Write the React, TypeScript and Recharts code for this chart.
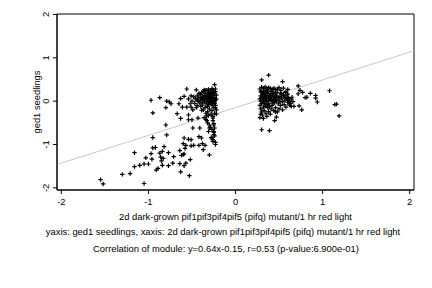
import React from 'react';
import { ScatterChart, Scatter, XAxis, YAxis, ReferenceLine, ReferenceArea } from 'recharts';

const xTicks = [-2, -1, 0, 1, 2];
const yTicks = [-2, -1, 0, 1, 2];
const slope = 0.64;
const intercept = -0.15;

const leftSparse: [number, number][] = [
  [-1.55, -1.81], [-1.52, -1.91], [-1.05, -1.9], [-1.3, -1.69], [-1.21, -1.67], [-1.16, -1.51],
  [-1.16, -1.19], [-1.1, -1.48], [-1.05, -1.45], [-1.03, -1.31], [-1.0, -1.45], [-0.95, -1.08],
  [-0.92, -1.07], [-0.95, -0.84], [-0.97, 0.02], [-0.95, -0.27], [-0.87, 0.08], [-0.91, -1.59],
  [-0.97, -1.21], [-0.96, -1.34], [-0.87, -1.2], [-0.86, -1.29], [-0.85, -1.38], [-0.84, -1.16],
  [-0.83, -1.32], [-0.82, -1.05], [-0.84, -1.48], [-0.89, -1.55], [-0.8, -0.15], [-0.79, 0.0],
  [-0.76, -0.02], [-0.74, -0.06], [-0.8, -0.55], [-0.79, -0.78], [-0.77, -1.19], [-0.77, -1.49],
  [-0.71, -1.28], [-0.72, -1.43], [-0.67, -0.29], [-0.65, -0.06], [-0.63, 0.06], [-0.61, -0.14],
  [-0.63, -0.4], [-0.64, -1.14], [-0.62, -1.25], [-0.64, -1.44], [-0.63, -1.63], [-0.6, -1.23],
  [-0.59, -1.22], [-0.59, -0.85], [-0.6, -0.98], [-0.59, -1.49], [-0.57, -1.43], [-0.58, -1.09],
  [-0.57, -1.02], [-0.54, -0.32], [-0.53, -1.72], [-0.52, -1.35], [-0.54, -0.88], [-0.51, -0.89],
  [-0.59, 0.11], [-0.56, 0.28], [-0.54, 0.05], [-0.51, 0.12], [-0.56, -0.14], [-0.51, -0.14],
  [-0.54, -0.43], [-0.5, -0.43], [-0.51, -1.03], [-0.49, -0.62], [-0.48, -1.02], [-0.45, 0.26],
  [-0.44, 0.03], [-0.43, -0.39], [-0.42, -1.02], [-0.42, -0.82], [-0.41, -0.62], [-0.38, -0.98],
  [-0.39, -0.85], [-0.39, -0.21], [-0.37, -1.12], [-0.35, -1.02], [-0.36, 0.26], [-0.33, -0.45],
  [-0.33, -0.34], [-0.3, -0.62], [-0.31, -0.7], [-0.3, -1.24], [-0.28, -0.84], [-0.26, -0.89],
  [-0.25, -0.7], [-0.26, -0.93], [-0.23, -1.0], [-0.24, 0.38], [-0.25, -0.55], [-0.25, -0.77],
  [-0.26, -0.39],
];

const leftDense: [number, number][] = [
  [-0.4, 0.15], [-0.38, 0.1], [-0.36, 0.05], [-0.35, 0.18], [-0.34, 0.12], [-0.33, 0.08], [-0.32, 0.02],
  [-0.31, 0.15], [-0.3, 0.2], [-0.29, 0.1], [-0.28, 0.05], [-0.27, 0.0], [-0.26, 0.12], [-0.25, 0.18],
  [-0.24, 0.08], [-0.23, 0.02], [-0.22, 0.14], [-0.24, -0.05], [-0.26, -0.1], [-0.28, -0.08], [-0.3, -0.03],
  [-0.32, -0.12], [-0.34, -0.06], [-0.36, -0.01], [-0.38, -0.09], [-0.4, 0.02], [-0.42, 0.08], [-0.44, 0.12],
  [-0.41, -0.04], [-0.37, 0.22], [-0.33, 0.25], [-0.29, 0.24], [-0.25, 0.26], [-0.23, 0.22], [-0.27, 0.17],
  [-0.31, 0.07], [-0.35, -0.15], [-0.3, -0.18], [-0.25, -0.15], [-0.23, -0.1], [-0.27, -0.22], [-0.32, -0.25],
  [-0.28, -0.3], [-0.24, -0.28], [-0.33, 0.0], [-0.29, -0.01], [-0.26, 0.04], [-0.22, 0.05], [-0.24, 0.13],
  [-0.28, 0.13], [-0.32, 0.18], [-0.36, 0.13], [-0.39, 0.06], [-0.43, 0.0], [-0.46, 0.05], [-0.48, 0.1],
  [-0.47, -0.05], [-0.44, -0.1], [-0.4, -0.12], [-0.37, -0.2], [-0.34, -0.28], [-0.31, -0.33], [-0.26, -0.35],
  [-0.22, -0.2], [-0.22, -0.3], [-0.23, 0.28], [-0.27, 0.29], [-0.31, 0.27], [-0.35, 0.25], [-0.39, 0.2],
  [-0.42, 0.18], [-0.3, 0.11], [-0.27, 0.09], [-0.25, 0.01], [-0.29, 0.05], [-0.33, 0.04], [-0.31, -0.07],
  [-0.27, -0.04], [-0.24, -0.02], [-0.23, -0.15], [-0.35, 0.09], [-0.37, 0.03], [-0.38, -0.04], [-0.26, 0.21],
  [-0.28, 0.19], [-0.3, 0.16], [-0.5, 0.0], [-0.52, -0.06], [-0.45, -0.15], [-0.49, -0.2],
  [-0.26, -0.45], [-0.25, -0.52], [-0.24, -0.62], [-0.27, -0.65], [-0.25, -0.72], [-0.24, -0.8],
  [-0.27, -0.85], [-0.23, -0.95], [-0.3, -0.55], [-0.32, -0.5], [-0.29, -0.6], [-0.34, -0.42], [-0.36, -0.38],
];

const rightDense: [number, number][] = [
  [0.28, 0.05], [0.29, 0.12], [0.3, 0.2], [0.31, -0.02], [0.32, 0.08], [0.33, 0.15], [0.34, 0.25], [0.35, 0.02],
  [0.36, 0.1], [0.37, 0.18], [0.38, -0.05], [0.39, 0.06], [0.4, 0.14], [0.41, 0.22], [0.42, 0.0], [0.43, 0.09],
  [0.44, 0.17], [0.45, -0.03], [0.46, 0.05], [0.47, 0.12], [0.48, 0.2], [0.49, -0.06], [0.5, 0.03], [0.51, 0.11],
  [0.52, 0.18], [0.53, 0.07], [0.54, -0.01], [0.55, 0.14], [0.56, 0.09], [0.57, 0.02], [0.58, 0.12], [0.59, 0.06],
  [0.6, 0.16], [0.61, 0.08], [0.62, 0.0],
  [0.28, -0.1], [0.29, -0.18], [0.3, -0.25], [0.31, -0.32], [0.32, -0.4], [0.28, -0.38], [0.29, -0.3], [0.33, -0.22],
  [0.34, -0.12], [0.35, -0.28], [0.36, -0.35], [0.37, -0.15], [0.38, -0.24], [0.4, -0.3], [0.41, -0.18], [0.42, -0.1],
  [0.44, -0.22], [0.46, -0.15], [0.48, -0.25], [0.5, -0.18], [0.52, -0.1], [0.54, -0.2], [0.56, -0.08], [0.58, -0.14],
  [0.28, 0.28], [0.3, 0.32], [0.32, 0.3], [0.34, 0.33], [0.36, 0.28], [0.38, 0.31], [0.4, 0.29], [0.42, 0.27],
  [0.44, 0.3], [0.46, 0.26], [0.48, 0.28], [0.5, 0.31], [0.52, 0.25], [0.55, 0.3], [0.58, 0.22], [0.6, 0.27],
  [0.29, 0.0], [0.3, 0.08], [0.31, 0.16], [0.32, 0.23], [0.33, -0.05], [0.34, 0.04], [0.35, 0.13], [0.36, 0.21],
  [0.37, -0.08], [0.38, 0.01], [0.39, 0.13], [0.4, 0.04], [0.41, 0.09], [0.42, 0.16], [0.43, -0.06], [0.44, 0.03],
  [0.45, 0.1], [0.46, 0.19], [0.3, -0.06], [0.32, -0.14], [0.35, -0.08], [0.39, -0.12], [0.43, 0.21], [0.31, 0.04],
  [0.33, 0.11], [0.36, 0.0], [0.38, 0.08], [0.41, 0.02], [0.34, 0.18], [0.37, 0.24], [0.29, 0.22], [0.32, -0.02],
  [0.64, 0.05], [0.63, -0.05], [0.6, -0.03], [0.57, 0.2], [0.53, 0.16], [0.47, 0.0], [0.49, 0.08], [0.51, -0.02],
];

const rightSparse: [number, number][] = [
  [0.3, 0.49], [0.38, 0.6], [0.54, 0.45], [0.3, -0.66], [0.39, -0.68], [0.45, -0.45], [0.47, -0.37],
  [0.46, -0.25], [0.72, 0.35], [0.74, 0.25], [0.72, 0.17], [0.77, 0.2], [0.8, 0.08], [0.82, 0.09],
  [0.86, 0.18], [0.92, 0.13], [0.92, 0.07], [0.94, -0.02], [1.08, 0.24], [1.14, -0.08], [1.16, -0.07],
  [1.19, -0.34], [0.65, 0.09], [0.66, -0.01], [0.67, -0.12], [0.64, -0.12], [0.73, -0.11], [0.76, -0.2],
  [0.62, -0.09], [0.6, 0.02],
];

const allPoints = [...leftSparse, ...leftDense, ...rightDense, ...rightSparse].map(([x, y]) => ({ x, y }));

const FONT = '"Liberation Sans", Arial, Helvetica, sans-serif';
const FS = 9.4;

const Plus = (props: any) => {
  const { cx, cy } = props;
  if (cx == null || cy == null) return null;
  return (
    <path
      d={`M${cx - 2.2},${cy}H${cx + 2.2}M${cx},${cy - 2.2}V${cy + 2.2}`}
      stroke="#000"
      strokeWidth={1.2}
      fill="none"
    />
  );
};

const YTick = (props: any) => {
  const { x, y, payload } = props;
  return (
    <text
      x={x}
      y={y}
      transform={`rotate(-90 ${x} ${y})`}
      textAnchor="middle"
      fontSize={FS}
      fontFamily={FONT}
      fill="#000"
    >
      {payload.value}
    </text>
  );
};

const XTick = (props: any) => {
  const { x, y, payload } = props;
  return (
    <text x={x} y={y + 6.5} textAnchor="middle" fontSize={FS} fontFamily={FONT} fill="#000">
      {payload.value}
    </text>
  );
};

export default function App() {
  const xDom: [number, number] = [-2.05, 2.05];
  const yDom: [number, number] = [-2.05, 2.01];
  return (
    <div style={{ position: 'absolute', left: 0, top: 0, width: 432, height: 288, background: '#fff' }}>
      <ScatterChart width={432} height={288} margin={{ top: 14, right: 18, bottom: 78, left: 37 }}>
        <XAxis
          type="number"
          dataKey="x"
          domain={xDom}
          ticks={xTicks}
          allowDataOverflow
          height={20}
          tickSize={4}
          tickMargin={4}
          axisLine={{ stroke: '#000' }}
          tickLine={{ stroke: '#000' }}
          tick={<XTick />}
          label={{
            value: '2d dark-grown pif1pif3pif4pif5 (pifq) mutant/1 hr red light',
            position: 'insideBottom',
            offset: -10,
            fontSize: FS,
            fontFamily: FONT,
            fill: '#000',
          }}
        />
        <YAxis
          type="number"
          dataKey="y"
          domain={yDom}
          ticks={yTicks}
          allowDataOverflow
          width={20}
          tickSize={4}
          tickMargin={4}
          axisLine={{ stroke: '#000' }}
          tickLine={{ stroke: '#000' }}
          tick={<YTick />}
          label={{
            value: 'ged1 seedlings',
            angle: -90,
            position: 'insideLeft',
            offset: 0,
            fontSize: FS,
            fontFamily: FONT,
            fill: '#000',
            style: { textAnchor: 'middle' },
          }}
        />
        <ReferenceArea x1={xDom[0]} x2={xDom[1]} y1={yDom[0]} y2={yDom[1]} fill="none" stroke="#000" strokeWidth={1} ifOverflow="visible" />
        <ReferenceLine
          segment={[
            { x: xDom[0], y: slope * xDom[0] + intercept },
            { x: xDom[1], y: slope * xDom[1] + intercept },
          ]}
          stroke="#c8c8c8"
          strokeWidth={1}
          ifOverflow="visible"
        />
        <Scatter data={allPoints} shape={<Plus />} isAnimationActive={false} />
      </ScatterChart>
      <div style={{ position: 'absolute', left: 0, width: 446, top: 226, textAlign: 'center', fontFamily: FONT, fontSize: FS, color: '#000', whiteSpace: 'nowrap' }}>
        yaxis: ged1 seedlings, xaxis: 2d dark-grown pif1pif3pif4pif5 (pifq) mutant/1 hr red light
      </div>
      <div style={{ position: 'absolute', left: 0, width: 452, top: 243, textAlign: 'center', fontFamily: FONT, fontSize: FS, color: '#000', whiteSpace: 'nowrap' }}>
        Correlation of module: y=0.64x-0.15, r=0.53 (p-value:6.900e-01)
      </div>
    </div>
  );
}
